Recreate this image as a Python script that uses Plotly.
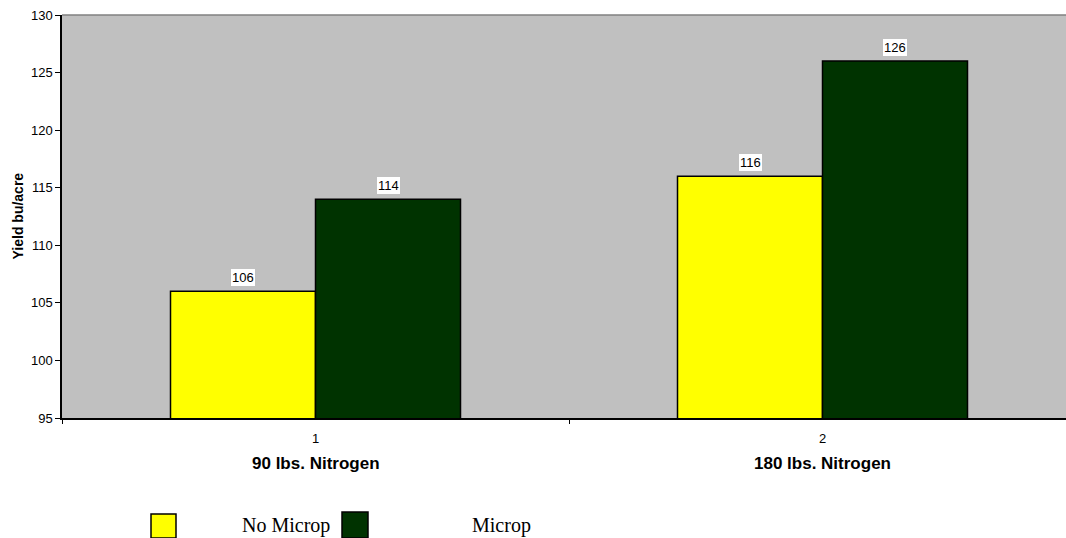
import plotly.graph_objects as go

categories = [1, 2]
category_names = ["90 lbs. Nitrogen", "180 lbs. Nitrogen"]
no_microp = [106, 116]
microp = [114, 126]
series_names = ["No Microp", "Microp"]
series_colors = ["#FFFF00", "#003300"]

bargap = 0.428
W, H = 1066, 538
ml, mr, mt, mb = 62, 0, 15, 120
plot_w = W - ml - mr
plot_h = H - mt - mb
SANS = "Liberation Sans, Arial"
SERIF = "Liberation Serif, Times New Roman"


def px_x(px):
    return (px - ml) / plot_w


def px_y(py):
    return (H - mb - py) / plot_h


fig = go.Figure()
for vals, name, col in zip((no_microp, microp), series_names, series_colors):
    fig.add_trace(go.Bar(x=categories, y=vals, name=name, showlegend=False,
                         marker=dict(color=col, line=dict(color="black", width=1.5))))
# invisible trace so the boundary-tick axis is drawn
fig.add_trace(go.Scatter(x=[1.5], y=[95], xaxis="x2", mode="markers",
                         marker=dict(opacity=0), showlegend=False, hoverinfo="skip"))

off = (1 - bargap) / 4
for vals, sgn in ((no_microp, -1), (microp, 1)):
    for c, v in zip(categories, vals):
        fig.add_annotation(x=c + sgn * off, y=v, xref="x", yref="y", text=str(v),
                           showarrow=False, yanchor="bottom", yshift=5,
                           bgcolor="white", borderpad=1, borderwidth=0,
                           font=dict(family=SANS, size=13, color="black"))

for c, name in zip(categories, category_names):
    fig.add_annotation(x=c, y=px_y(463.5), xref="x", yref="paper",
                       text="<b>" + name + "</b>", showarrow=False,
                       yanchor="middle", font=dict(family=SANS, size=17, color="black"))

# manual legend (Excel style)
legend_boxes = [(151, 176, 514, 538), (342, 368, 512, 538)]
legend_text_x = [240, 470]
for (x0, x1, y0, y1), tx, name, col in zip(legend_boxes, legend_text_x, series_names, series_colors):
    fig.add_shape(type="rect", xref="paper", yref="paper",
                  x0=px_x(x0), x1=px_x(x1), y0=px_y(y1), y1=px_y(y0),
                  fillcolor=col, line=dict(color="black", width=1.5))
    fig.add_annotation(x=px_x(tx), y=px_y(525), xref="paper", yref="paper", text=name,
                       showarrow=False, xanchor="left", yanchor="middle",
                       font=dict(family=SERIF, size=20, color="black"))

fig.add_annotation(x=px_x(17), y=0.5, xref="paper", yref="paper",
                   text="<b>Yield bu/acre</b>", textangle=-90, showarrow=False,
                   xanchor="center", yanchor="middle",
                   font=dict(family=SANS, size=14, color="black"))

xr = [0.5, 0.5 + plot_w / 507.0]
fig.update_layout(
    width=W, height=H,
    margin=dict(l=ml, r=mr, t=mt, b=mb, autoexpand=False),
    paper_bgcolor="white", plot_bgcolor="#C0C0C0",
    barmode="group", bargap=bargap, bargroupgap=0,
    font=dict(family=SANS, size=13, color="black"),
    xaxis=dict(range=xr, tickvals=categories, ticktext=[str(c) for c in categories],
               ticks="", ticklabelstandoff=8, showgrid=False, zeroline=False, showline=True,
               linecolor="black", linewidth=1.5, tickfont=dict(size=13), automargin=False),
    xaxis2=dict(range=xr, overlaying="x", side="bottom", tickvals=[0.5, 1.5, 2.5],
                showticklabels=False, ticks="outside", ticklen=5, tickcolor="black",
                showgrid=False, zeroline=False, showline=False),
    yaxis=dict(range=[95, 130], dtick=5, ticks="outside", ticklen=5, tickcolor="black",
               showgrid=False, zeroline=False, showline=True, linecolor="black",
               linewidth=1.5, tickfont=dict(size=13), automargin=False),
    showlegend=False,
)
fig.add_shape(type="line", xref="paper", yref="paper", x0=0, x1=1, y0=1, y1=1,
              line=dict(color="#808080", width=1.5))

fig.write_html("out.html", config={"displayModeBar": False},
               post_script="document.body.style.margin='0px';"
                           "document.body.style.overflow='hidden';")
